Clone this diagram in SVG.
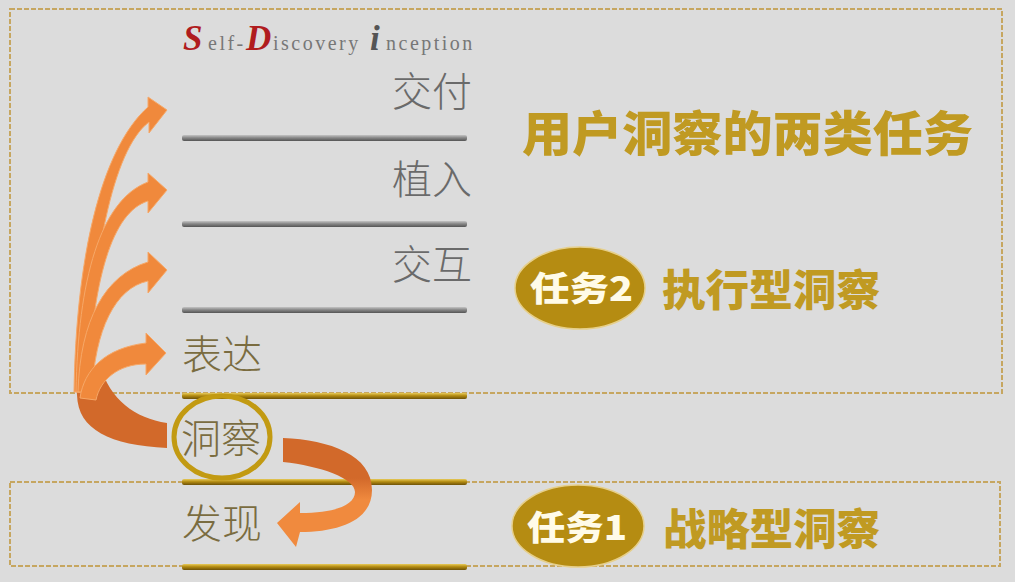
<svg xmlns="http://www.w3.org/2000/svg" width="1015" height="582" viewBox="0 0 1015 582">
<defs>
<style>
.box{fill:none;stroke:#c6a660;stroke-width:2;stroke-dasharray:5 2}
.lbl{font-family:"Noto Sans CJK SC","Noto Sans",sans-serif;font-size:40px;font-weight:300}
.gray{fill:#6a6a6a}
.brown{fill:#7a6c40}
.gold{font-family:"Noto Sans CJK SC",sans-serif;font-weight:900;fill:#c09a22}
.badge{fill:#b58c12;stroke:#e6cf8a;stroke-width:1.5}
.btxt{font-family:"Noto Sans CJK SC",sans-serif;font-weight:900;fill:#fffbe8;font-size:34px}
.arr{fill:#f0893c;stroke:#f6a868;stroke-width:1}
.ser{font-family:"Liberation Serif",serif}
</style>
<linearGradient id="gGray" x1="0" y1="0" x2="0" y2="1">
<stop offset="0" stop-color="#c4c4c4"/><stop offset="0.45" stop-color="#8a8a8a"/><stop offset="1" stop-color="#545454"/>
</linearGradient>
<linearGradient id="gGold" x1="0" y1="0" x2="0" y2="1">
<stop offset="0" stop-color="#e8cb5a"/><stop offset="0.45" stop-color="#b48c12"/><stop offset="1" stop-color="#6e5208"/>
</linearGradient>
<linearGradient id="gRight" gradientUnits="userSpaceOnUse" x1="0" y1="478" x2="0" y2="500">
<stop offset="0" stop-color="#d2692a"/><stop offset="1" stop-color="#f08a3e"/>
</linearGradient>
</defs>
<rect width="1015" height="582" fill="#dcdcdc"/>

<g id="frames">
<rect class="box" x="10" y="9" width="992" height="384"/>
<rect class="box" x="10" y="482" width="990" height="84"/>
</g>

<g id="title">
<text y="50" class="ser" fill="#777" font-size="20" letter-spacing="2.5">
<tspan x="183" fill="#b01c1e" font-size="35" font-weight="bold" font-style="italic" letter-spacing="0">S</tspan><tspan x="208">elf-</tspan><tspan x="246" fill="#b01c1e" font-size="35" font-weight="bold" font-style="italic" letter-spacing="0">D</tspan><tspan x="273">iscovery</tspan><tspan x="370" fill="#555" font-size="35" font-weight="bold" font-style="italic" letter-spacing="0">i</tspan><tspan x="386">nception</tspan>
</text>
</g>

<g id="levels">
<rect x="182" y="135" width="285" height="6" rx="2" fill="url(#gGray)"/>
<rect x="182" y="221" width="285" height="6" rx="2" fill="url(#gGray)"/>
<rect x="182" y="307" width="285" height="6" rx="2" fill="url(#gGray)"/>
<rect x="182" y="393" width="285" height="6" rx="2" fill="url(#gGold)"/>
<rect x="182" y="479" width="285" height="6" rx="2" fill="url(#gGold)"/>
<rect x="182" y="564" width="285" height="6" rx="2" fill="url(#gGold)"/>
</g>

<g id="node-jiaofu"><text class="lbl gray" x="472" y="106" text-anchor="end">交付</text></g>
<g id="node-zhiru"><text class="lbl gray" x="472" y="194" text-anchor="end">植入</text></g>
<g id="node-jiaohu"><text class="lbl gray" x="472" y="279" text-anchor="end">交互</text></g>
<g id="node-biaoda"><text class="lbl brown" x="182" y="369">表达</text></g>
<g id="node-dongcha">
<ellipse cx="222" cy="437" rx="48" ry="41" fill="none" stroke="#c29a12" stroke-width="5"/>
<text class="lbl brown" x="181" y="453">洞察</text>
</g>
<g id="node-faxian"><text class="lbl brown" x="182" y="538">发现</text></g>

<g id="connectors">
<path d="M 100 365 C 110 400 135 418 167 423 L 167 448 C 110 445 78 430 77 395 C 76 385 78 375 80 368 Z" fill="#d2692a"/>
<path class="arr" d="M 74 392 C 76 260 100 150 148 107 L 148 97 L 167 110 L 149 133 L 149 122 C 112 150 92 260 86 392 Z"/>
<path class="arr" d="M 76 392 C 78 280 100 200 148 182 L 148 173 L 167 190 L 148 213 L 148 201 C 112 212 92 280 88 392 Z"/>
<path class="arr" d="M 78 392 C 80 320 105 275 148 262 L 148 252 L 167 270 L 148 293 L 148 281 C 115 288 95 330 92 392 Z"/>
<path class="arr" d="M 80 398 C 84 370 105 348 146 343 L 146 333 L 166 353 L 146 375 L 146 364 C 118 364 100 380 96 400 Z"/>
<path d="M 283 438 C 330 440 372 455 372 490 C 372 520 340 532 300 532 L 296 547 L 277 523 L 300 502 L 300 513 C 335 513 355 505 355 492 C 355 478 320 466 283 462 Z" fill="url(#gRight)"/>
</g>

<g id="heading"><text class="gold" x="522" y="151" font-size="48" textLength="451" lengthAdjust="spacingAndGlyphs">用户洞察的两类任务</text></g>

<g id="task2">
<ellipse class="badge" cx="580" cy="288" rx="65" ry="41"/>
<text class="btxt" x="530" y="301" textLength="103" lengthAdjust="spacingAndGlyphs">任务2</text>
<text class="gold" x="662" y="306" font-size="43" textLength="218" lengthAdjust="spacingAndGlyphs">执行型洞察</text>
</g>

<g id="task1">
<ellipse class="badge" cx="578" cy="526" rx="66" ry="41"/>
<text class="btxt" x="527" y="540" textLength="100" lengthAdjust="spacingAndGlyphs">任务1</text>
<text class="gold" x="663" y="545" font-size="43" textLength="217" lengthAdjust="spacingAndGlyphs">战略型洞察</text>
</g>
</svg>
